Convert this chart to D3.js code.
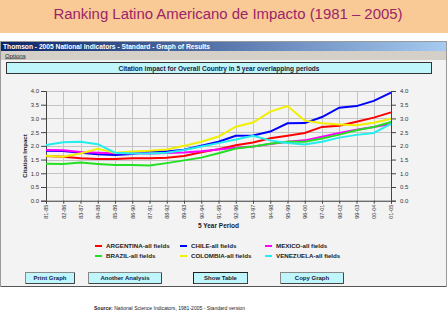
<!DOCTYPE html>
<html><head><meta charset="utf-8">
<script src="https://cdnjs.cloudflare.com/ajax/libs/d3/7.8.5/d3.min.js"></script>
<style>html,body{margin:0;padding:0;background:#fff;}svg{display:block;font-family:"Liberation Sans",Arial,sans-serif;}</style>
</head><body>
<svg id="c" width="448" height="336"></svg>
<script>
const periods = ["81-85","82-86","83-87","84-88","85-89","86-90","87-91","88-92","89-93","90-94","91-95","92-96","93-97","94-98","95-99","96-00","97-01","98-02","99-03","00-04","01-05"];
const argentina = [1.63,1.60,1.55,1.52,1.52,1.55,1.55,1.57,1.63,1.77,1.88,2.02,2.12,2.28,2.37,2.47,2.69,2.73,2.88,3.03,3.22];
const chile     = [1.82,1.81,1.75,1.69,1.67,1.70,1.79,1.79,1.86,2.00,2.15,2.37,2.38,2.52,2.82,2.83,3.05,3.39,3.45,3.64,3.94];
const mexico    = [1.85,1.84,1.78,1.75,1.73,1.73,1.72,1.74,1.76,1.80,1.87,1.93,1.98,2.07,2.15,2.20,2.33,2.47,2.59,2.69,2.80];
const brazil    = [1.35,1.34,1.39,1.34,1.30,1.30,1.28,1.37,1.47,1.57,1.73,1.90,1.98,2.08,2.15,2.15,2.27,2.41,2.57,2.69,2.87];
const colombia  = [1.64,1.60,1.72,1.89,1.75,1.79,1.82,1.87,2.00,2.15,2.34,2.70,2.85,3.25,3.45,2.92,2.82,2.78,2.75,2.84,2.99];
const venezuela = [2.03,2.13,2.15,2.06,1.75,1.72,1.72,1.75,1.85,1.98,2.10,2.23,2.37,2.20,2.10,2.05,2.15,2.30,2.40,2.47,2.80];
const seriesNames = ["ARGENTINA-all fields","CHILE-all fields","MEXICO-all fields","BRAZIL-all fields","COLOMBIA-all fields","VENEZUELA-all fields"];
const seriesValues = [argentina, chile, mexico, brazil, colombia, venezuela];
const seriesColors = ["#ff0000","#0000ff","#ff00ff","#22e022","#f0f000","#22eeee"];
const yTicks = [0,0.5,1,1.5,2,2.5,3,3.5,4];
const buttons = ["Print Graph","Another Analysis","Show Table","Copy Graph"];

const svg = d3.select("#c");
// page header band
svg.append("rect").attr("x",0).attr("y",0).attr("width",448).attr("height",33).attr("fill","#f9c996");
svg.append("text").attr("x",228).attr("y",19).attr("text-anchor","middle")
  .attr("font-size",15.5).attr("fill","#9b2566").attr("textLength",349).attr("lengthAdjust","spacingAndGlyphs")
  .text("Ranking Latino Americano de Impacto (1981 \u2013 2005)");

// window
const defs = svg.append("defs");
const gr = defs.append("linearGradient").attr("id","tb");
gr.append("stop").attr("offset","0").attr("stop-color","#0a246a");
gr.append("stop").attr("offset","1").attr("stop-color","#a6caf0");
svg.append("rect").attr("x",0.5).attr("y",41.5).attr("width",446).attr("height",245).attr("fill","#f3f3f3").attr("stroke","#9a9a9a");
svg.append("rect").attr("x",1).attr("y",42).attr("width",445).attr("height",9).attr("fill","url(#tb)");
svg.append("text").attr("x",3).attr("y",49).attr("font-size",6.5).attr("font-weight","bold").attr("fill","#fff")
  .attr("textLength",207).attr("lengthAdjust","spacingAndGlyphs")
  .text("Thomson - 2005 National Indicators - Standard - Graph of Results");
svg.append("rect").attr("x",1).attr("y",51).attr("width",445).attr("height",9).attr("fill","#d4d0c8");
svg.append("text").attr("x",5).attr("y",57.5).attr("font-size",6).attr("fill","#222").attr("text-decoration","underline").text("Options");
svg.append("line").attr("x1",1).attr("x2",446).attr("y1",286.5).attr("y2",286.5).attr("stroke","#555");

// chart header
svg.append("rect").attr("x",6.5).attr("y",62.5).attr("width",425).attr("height",11).attr("fill","#bff6fc").attr("stroke","#333");
svg.append("text").attr("x",219).attr("y",70.5).attr("text-anchor","middle").attr("font-size",6.5).attr("font-weight","bold").attr("fill","#1a1a40")
  .attr("textLength",201).attr("lengthAdjust","spacingAndGlyphs")
  .text("Citation impact for Overall Country in 5 year overlapping periods");

// scales
const x = d3.scalePoint().domain(periods).range([46,391]);
const y = d3.scaleLinear().domain([0,4]).range([200.7,91]);

// grid
const grid = svg.append("g");
grid.selectAll("line.h").data(yTicks).join("line").attr("class","h")
  .attr("x1",46).attr("x2",391).attr("y1",d=>Math.round(y(d))+0.5).attr("y2",d=>Math.round(y(d))+0.5)
  .attr("stroke","#c4c4c4");
grid.selectAll("line.v").data(periods).join("line").attr("class","v")
  .attr("x1",d=>Math.round(x(d))+0.5).attr("x2",d=>Math.round(x(d))+0.5).attr("y1",91).attr("y2",200.7)
  .attr("stroke","#c4c4c4");

// axes
const fmt = d3.format(".1f");
const axL = svg.append("g").attr("transform","translate(46,0)")
  .call(d3.axisLeft(y).tickValues(yTicks).tickFormat(fmt).tickSize(5).tickPadding(2));
const axR = svg.append("g").attr("transform","translate(391,0)")
  .call(d3.axisRight(y).tickValues(yTicks).tickFormat(fmt).tickSize(5).tickPadding(4));
const axB = svg.append("g").attr("transform","translate(0,200.7)")
  .call(d3.axisBottom(x).tickSize(3).tickPadding(2));
[axL,axR,axB].forEach(a=>{
  a.selectAll("path.domain").attr("stroke","#444");
  a.selectAll(".tick line").attr("stroke","#444");
  a.selectAll("text").attr("fill","#333").attr("font-size",6).attr("font-family","Liberation Sans, Arial, sans-serif");
});
axB.selectAll("text").attr("transform","rotate(-90)").attr("text-anchor","end")
  .attr("x",-4).attr("y",0).attr("dy","0.35em").attr("font-size",5.5);

svg.append("text").attr("transform","translate(27,156) rotate(-90)").attr("text-anchor","middle")
  .attr("font-size",6).attr("font-weight","bold").attr("fill","#222").text("Citation Impact");
svg.append("text").attr("x",218.5).attr("y",228).attr("text-anchor","middle")
  .attr("font-size",6.5).attr("font-weight","bold").attr("fill","#222").text("5 Year Period");

// lines
const line = d3.line().x((d,i)=>x(periods[i])).y(d=>y(d));
svg.append("g").selectAll("path").data(seriesValues).join("path")
  .attr("d",d=>line(d)).attr("fill","none").attr("stroke",(d,i)=>seriesColors[i]).attr("stroke-width",2);

// legend
const colX = [95,180,265], rowY = [246,256];
const lg = svg.append("g").selectAll("g").data(seriesNames).join("g")
  .attr("transform",(d,i)=>`translate(${colX[i%3]},${rowY[Math.floor(i/3)]})`);
lg.append("line").attr("x1",0).attr("x2",7).attr("y1",0).attr("y2",0).attr("stroke",(d,i)=>seriesColors[i]).attr("stroke-width",2);
lg.append("text").attr("x",11).attr("y",2.2).attr("font-size",6.2).attr("font-weight","bold").attr("fill","#222").text(d=>d);

// buttons
const bx = [[25,50],[88,74],[193,55],[280,64]];
const bg = svg.append("g").selectAll("g").data(buttons).join("g").attr("transform",(d,i)=>`translate(${bx[i][0]},272)`);
bg.append("rect").attr("x",0.5).attr("y",0.5).attr("width",(d,i)=>bx[i][1]-1).attr("height",11).attr("fill","#bff6fc")
  .attr("stroke",(d,i)=>i===2?"#222":"#888");
bg.append("path").attr("d",(d,i)=>`M${bx[i][1]-0.5},1 V11.5 H1`).attr("fill","none").attr("stroke","#444");
bg.append("text").attr("x",(d,i)=>bx[i][1]/2).attr("y",8.3).attr("text-anchor","middle")
  .attr("font-size",6).attr("font-weight","bold").attr("fill","#1a1a40").text(d=>d);

// source
const src = svg.append("text").attr("x",94).attr("y",309.5).attr("font-size",5).attr("fill","#222")
  .attr("textLength",151).attr("lengthAdjust","spacingAndGlyphs");
src.append("tspan").attr("font-weight","bold").text("Source: ");
src.append("tspan").text("National Science Indicators, 1981-2005 - Standard version");
</script>
</body></html>
